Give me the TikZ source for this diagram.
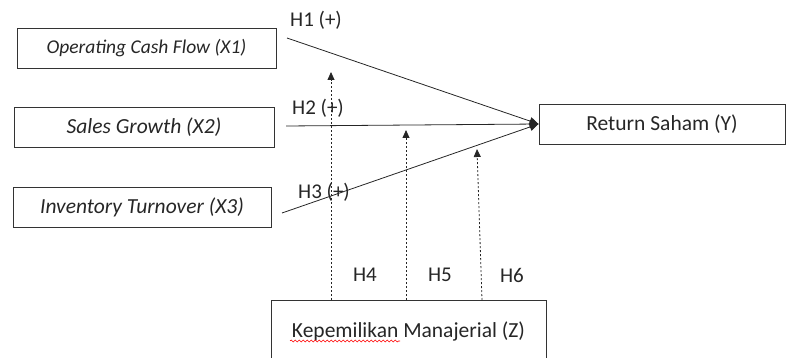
\documentclass[tikz,border=0pt]{standalone}
\usepackage{fontspec}
\setmainfont{Carlito}
\usetikzlibrary{arrows.meta,decorations.pathmorphing}

\begin{document}
\begin{tikzpicture}[x=1pt,y=-1pt,
  var/.style={draw=black!80,line width=0.9pt,minimum height=40pt,inner sep=0pt,
    font=\fontsize{21.5}{25}\selectfont,text=black!85},
  hyp/.style={inner sep=0pt,font=\fontsize{21}{25}\selectfont,text=black!85},
  effect/.style={line width=0.8pt,draw=black!85,-{Triangle[length=9pt,width=8pt]}},
  moderate/.style={line width=0.8pt,draw=black!85,dash pattern=on 2pt off 2pt,
    -{Triangle[length=8pt,width=7pt]}}]
  \clip (0,0) rectangle (786,358);
  \node[var,minimum width=259pt,font=\fontsize{19.5}{24}\selectfont] (x1) at (146.5,48) {\itshape Operating Cash Flow (X1)};
  \node[var,minimum width=260pt] (x2) at (144,127.5) {\itshape Sales Growth (X2)};
  \node[var,minimum width=258pt] (x3) at (142,207.5) {\itshape Inventory Turnover (X3)};
  \node[var,minimum width=246pt] (y) at (662,124) {Return Saham (Y)};
  \node[var,minimum width=275pt,minimum height=62pt] (z) at (408.5,331) {Kepemilikan Manajerial (Z)};
  \coordinate (s1) at (287,38);
  \coordinate (s2) at (286,126);
  \coordinate (s3) at (282,213);
  \draw[effect] (s1)--(y.west);
  \draw[effect] (s2)--(y.west);
  \draw[effect] (s3)--(y.west);
  \coordinate (b4) at (331,300);
  \coordinate (t4) at (331,72);
  \coordinate (b5) at (406,300);
  \coordinate (t5) at (406,130);
  \coordinate (b6) at (482,300);
  \coordinate (t6) at (477,149);
  \draw[moderate] (b4)--(t4);
  \draw[moderate] (b5)--(t5);
  \draw[moderate] (b6)--(t6);
  \node[hyp] (h1) at (316,20) {H1 (+)};
  \node[hyp] (h2) at (318,108) {H2 (+)};
  \node[hyp] (h3) at (324,192) {H3 (+)};
  \node[hyp] (h4) at (365,275) {H4};
  \node[hyp] (h5) at (440,275) {H5};
  \node[hyp] (h6) at (512,275) {H6};
  \draw[red,line width=0.6pt,decorate,decoration={snake,amplitude=1pt,segment length=4pt}]
    (290,341)--(400,341);
\end{tikzpicture}
\end{document}
